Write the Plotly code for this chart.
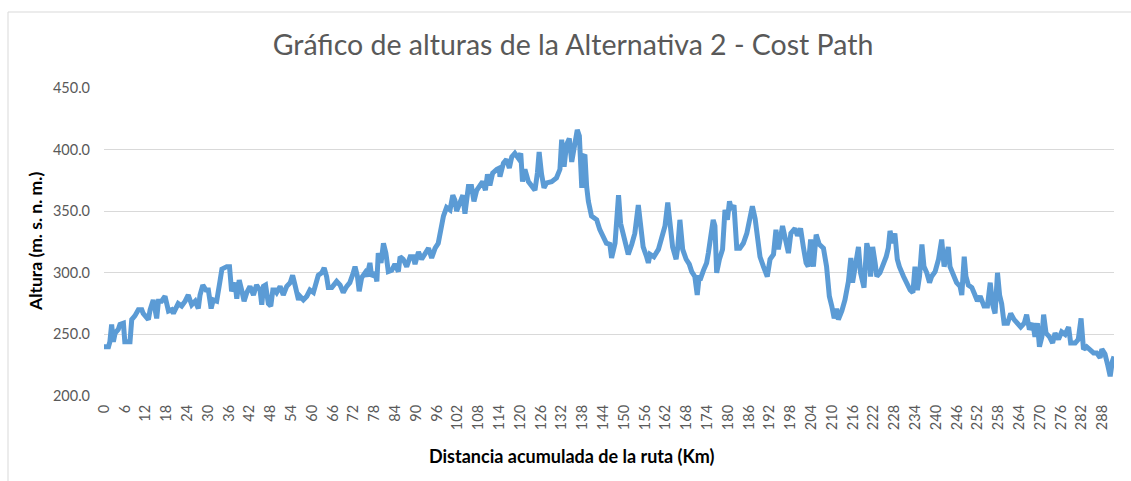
import plotly.graph_objects as go

# distancia acumulada (km) y altura (m s.n.m.)
km = [
    0.0, 1.3, 1.7, 2.2, 2.7, 3.2, 4.1, 4.6, 5.6, 6.0, 7.5, 8.0, 8.9, 9.9, 10.9, 11.3, 12.8, 13.3, 14.2, 15.2,
    15.7, 16.6, 17.6, 18.6, 19.5, 20.0, 21.4, 22.4, 23.4, 24.3, 25.3, 26.3, 27.2, 27.7, 28.5, 29.4, 30.1, 30.9,
    31.5, 32.5, 33.5, 34.0, 35.4, 36.2, 36.8, 37.8, 38.3, 39.0, 39.7, 40.4, 41.2, 42.1, 43.1, 44.0, 45.0, 45.5,
    46.0, 46.6, 47.4, 48.1, 48.7, 49.3, 49.8, 50.8, 51.7, 52.7, 53.7, 54.4, 55.1, 56.1,
    56.5, 57.5, 58.5, 59.4, 60.4, 61.3, 61.8, 62.8, 63.5, 64.2, 64.7, 65.7, 67.1, 68.1, 69.0, 70.0, 70.9, 71.9,
    72.4, 73.1, 73.6, 74.3, 75.3, 75.8, 76.7, 77.2, 78.2, 78.7, 79.1, 79.9, 80.6, 81.3, 82.0, 83.0, 83.9, 84.9,
    85.4, 86.3, 87.3, 88.3, 89.2, 89.7, 90.7, 91.6, 92.6, 93.6, 94.5, 95.5, 96.4, 96.9, 97.9, 98.8, 99.8, 100.6,
    101.2, 101.7, 102.5, 103.5, 104.1, 104.6, 105.1, 106.0, 106.7, 107.5, 108.3, 109.2, 110.0, 110.6, 111.3,
    112.1, 113.3, 114.0,
    114.2, 115.2, 116.1, 116.9, 117.6, 118.5, 119.5, 120.2, 120.7, 121.4, 122.4, 123.3, 124.3, 125.0, 125.5,
    126.2, 126.9, 127.7, 129.1, 130.5, 131.5, 132.0, 132.7, 133.4, 134.2, 134.9, 135.5, 136.5, 137.1, 137.8,
    138.2, 138.7, 139.2, 139.7, 140.6, 142.1, 143.0, 144.0, 144.9, 145.9, 146.4, 147.4, 147.9, 148.4, 149.0,
    150.0, 151.2, 152.2, 153.1, 154.1, 154.8, 155.5, 156.5, 157.0, 157.5, 158.6, 159.9, 160.8, 161.8, 162.6,
    163.2, 164.0, 165.0, 165.5, 166.1, 166.9, 167.9, 168.8, 169.5, 170.4, 171.1, 171.7,
    171.9, 172.9, 173.8, 174.3, 175.0, 175.7, 176.2, 176.7, 177.5, 178.4, 179.1, 179.8, 180.4, 181.0, 181.7,
    182.5, 183.4, 184.4, 185.4, 186.3, 187.0, 187.8, 188.4, 189.2, 190.2, 191.3, 192.1, 193.1, 193.8, 194.5,
    195.7, 196.4, 197.4, 198.1, 199.3, 200.0, 200.9, 201.7, 202.5, 203.1, 203.8, 204.6, 205.4, 206.3, 207.5,
    208.4, 209.2, 209.9, 210.6, 211.3, 211.8, 212.8, 213.7, 214.7, 215.4, 215.9, 216.6, 217.6, 218.2, 219.2,
    220.0, 220.7, 221.1, 221.7, 222.4, 222.9, 223.8, 224.6, 225.6, 226.2, 226.7, 227.5, 228.1, 228.8, 229.4,
    230.6, 231.5, 232.5, 233.3, 233.9, 234.6, 235.2, 235.9, 236.5, 237.3, 238.1, 238.7, 239.7, 240.7, 241.6,
    242.3, 243.1, 243.5, 244.0, 245.0, 245.9, 246.9, 247.4, 248.1, 248.6, 249.3, 250.3, 251.2, 251.9, 252.7,
    253.8, 254.8, 255.6, 256.3, 257.0, 257.7, 258.3, 258.9, 259.6, 260.6, 261.5, 262.5, 263.4, 264.4, 265.4,
    266.1, 266.9, 267.9, 268.5, 269.2, 269.8, 270.5, 271.0, 271.7, 272.7, 273.6, 274.3, 275.3, 276.2, 277.2,
    278.2, 278.8, 280.1, 281.0, 281.8, 282.5, 283.4, 284.4, 285.4, 286.3, 287.3, 287.8, 288.7, 289.5, 290.2,
    290.8, 291.3,
]

altura = [
    240, 240, 244, 258, 244, 251, 254, 258, 259, 244, 244, 262, 265, 270, 270, 267, 262, 270, 278, 263,
    277, 277, 281, 269, 270, 267, 275, 273, 277, 282, 274, 277, 271, 282, 290, 286, 286, 271,
    278, 277, 294, 303, 305, 305, 285, 292, 279, 294, 286, 277, 284, 289, 282, 290, 286, 274,
    289, 290, 275, 273, 286, 286, 284, 289, 282, 289, 292, 298, 290, 278,
    281, 278, 281, 286, 284, 294, 298, 300, 304, 297, 288, 288, 293, 290, 284, 289, 292, 300,
    305, 297, 285, 296, 300, 297, 308, 297, 300, 293, 316, 308, 324, 316, 301, 302, 307, 301,
    313, 311, 305, 313, 313, 307, 317, 311, 315, 320, 312, 320, 324, 332, 346, 353, 351, 363,
    359, 350, 355, 363, 348, 359, 370, 370, 358, 367, 370, 374, 367, 380, 371,
    381, 384, 385,
    378, 389, 392, 385, 394, 397, 393, 397, 374, 384, 374, 370, 367, 381, 398,
    380, 369, 373, 374, 377, 384, 408, 386, 404, 409, 390, 399, 416, 411, 369,
    394, 396, 370, 358, 346, 343, 335, 328, 324, 323, 312, 324, 340, 363, 340,
    330, 315, 323, 332, 355, 338, 321, 313, 308, 315, 313, 319, 327, 338, 357,
    338, 321, 311, 321, 343, 319, 311, 307, 301, 297, 282, 298,
    294, 302, 308, 316, 327, 343, 338, 300, 311, 319, 351, 343, 358, 351, 355,
    320, 320, 324, 332, 343, 354, 344, 331, 313, 305, 297, 311, 315, 335, 319,
    338, 327, 316, 332, 336, 330, 336, 321, 308, 305, 327, 305, 331, 323, 320,
    305, 281, 273, 263, 271, 262, 269, 278, 293, 312, 292, 305, 321, 300, 288,
    324, 316, 297, 321, 308, 297, 300, 305, 313, 320, 334, 324, 332, 311, 305,
    297, 292, 286, 284, 305, 286, 297, 323, 305, 300, 292, 297, 301, 311, 327,
    305, 316, 321, 305, 297, 292, 289, 282, 313, 297, 290, 288, 282, 277, 281,
    273, 273, 292, 274, 267, 300, 282, 275, 259, 259, 267, 262, 259, 256, 259,
    266, 254, 259, 248, 259, 240, 248, 266, 251, 248, 243, 251, 246, 252, 250,
    256, 243, 243, 246, 263, 238, 240, 238, 235, 235, 231, 238, 234, 225, 216,
    228, 232,
]

y_ticks = [200, 250, 300, 350, 400, 450]
x_ticks = list(range(0, 289, 6))

# plot area in pixels
L, R, T, B = 104, 1114, 88, 396
W, H = R - L, B - T


def px(x):
    return (x - L) / W


def py(y):
    return (B - y) / H


fig = go.Figure()
fig.add_trace(
    go.Scatter(
        x=km,
        y=altura,
        mode="lines",
        line=dict(color="#5B9BD5", width=5),
        showlegend=False,
    )
)

border = dict(color="#D9D9D9", width=1)

fig.update_layout(
    width=1131,
    height=481,
    margin=dict(l=L, r=1131 - R, t=T, b=481 - B),
    paper_bgcolor="white",
    plot_bgcolor="white",
    font=dict(family="Lato", color="#595959"),
    title=dict(
        text="Gráfico de alturas de la Alternativa 2 - Cost Path",
        font=dict(family="Lato", size=28.5, color="#595959"),
        x=573 / 1131,
        xanchor="center",
        xref="container",
        y=1 - 45 / 481,
        yanchor="middle",
    ),
    # chart frame, cut off on the right and bottom in the original screenshot
    shapes=[
        dict(type="line", xref="paper", yref="paper",
             x0=px(8), x1=px(1135), y0=py(12), y1=py(12), line=border),
        dict(type="line", xref="paper", yref="paper",
             x0=px(8), x1=px(8), y0=py(12), y1=py(485), line=border),
    ],
    annotations=[
        dict(
            text="<b>Altura (m. s. n. m.)</b>", textangle=-90,
            xref="paper", yref="paper", x=px(35), y=py(242),
            xanchor="center", yanchor="middle", showarrow=False,
            font=dict(family="Lato", size=17.5, color="black"),
        ),
        dict(
            text="<b>Distancia acumulada de la ruta (Km)</b>",
            xref="paper", yref="paper", x=px(572), y=py(456),
            xanchor="center", yanchor="middle", showarrow=False,
            font=dict(family="Lato", size=18, color="black"),
        ),
    ],
)

fig.update_xaxes(
    range=[0, 291.3],
    tickvals=x_ticks,
    ticktext=[str(v) for v in x_ticks],
    tickangle=-90,
    tickfont=dict(size=14.5, color="#595959"),
    showgrid=False,
    showline=False,
    zeroline=False,
    ticklabelstandoff=5,
)
fig.update_yaxes(
    range=[200, 450],
    tickvals=y_ticks,
    tickformat=".1f",
    tickfont=dict(size=14.5, color="#595959"),
    showgrid=True,
    gridcolor="#D9D9D9",
    gridwidth=1,
    zeroline=False,
    showline=False,
    ticklabelstandoff=13,
)

fig.write_html(
    "out.html",
    config={"displayModeBar": False},
    post_script="document.body.style.margin = '0px';",
)
